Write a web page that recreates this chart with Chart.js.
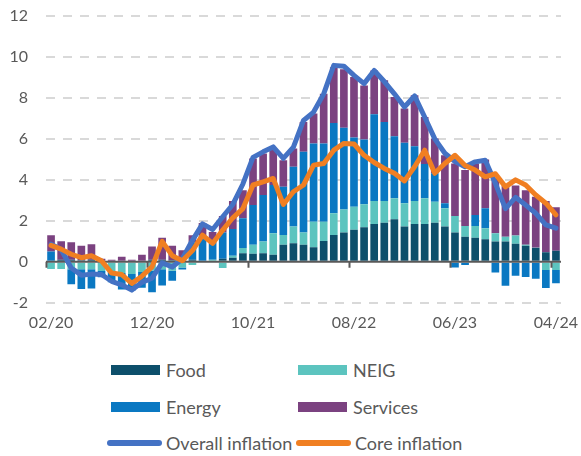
<!DOCTYPE html>
<html>
<head>
<meta charset="utf-8">
<script src="https://cdn.jsdelivr.net/npm/chart.js@4.4.1/dist/chart.umd.min.js"></script>
<style>
  body { margin: 0; background: #fff; font-family: Lato, sans-serif; }
  #wrap { position: relative; width: 581px; height: 456px; }
  #box { position: absolute; left: 0; top: 0; width: 581px; height: 354px; }
  .txt { position: absolute; font-size: 18px; color: #595959; line-height: 22px; white-space: nowrap; }
  .sw { position: absolute; }
</style>
</head>
<body>
<div id="wrap">
  <div id="box"><canvas id="canvas1"></canvas></div>
  <div id="legend"></div>
</div>
<script>
const months = ['02/20','03/20','04/20','05/20','06/20','07/20','08/20','09/20','10/20','11/20','12/20',
  '01/21','02/21','03/21','04/21','05/21','06/21','07/21','08/21','09/21','10/21','11/21','12/21',
  '01/22','02/22','03/22','04/22','05/22','06/22','07/22','08/22','09/22','10/22','11/22','12/22',
  '01/23','02/23','03/23','04/23','05/23','06/23','07/23','08/23','09/23','10/23','11/23','12/23',
  '01/24','02/24','03/24','04/24'];

// contributions, percentage points
const food = [0.05,0.1,0.1,0.08,0.1,0.05,0.05,0.05,0.05,0.05,0.1,
  0.1,0.08,0.07,0.1,0.05,0.05,0.15,0.2,0.42,0.39,0.42,0.34,
  0.83,0.91,0.83,0.71,1.02,1.31,1.43,1.56,1.69,1.85,1.91,2.08,
  1.72,1.85,1.85,1.91,1.72,1.43,1.23,1.18,1.1,0.99,0.99,0.88,
  0.78,0.67,0.47,0.54];
const neig = [-0.35,-0.35,-0.36,-0.36,-0.36,-0.45,-0.5,-0.55,-0.6,-0.5,-0.44,
  -0.36,-0.44,-0.28,-0.15,0.0,0.05,-0.3,0.1,0.25,0.44,0.57,1.06,
  0.48,0.81,0.6,1.25,0.94,1.06,1.13,1.13,1.12,1.12,1.06,1.02,
  1.14,1.12,1.25,1.02,0.89,0.81,0.52,0.57,0.54,0.41,0.24,0.4,
  0.05,0.02,-0.4,-0.4];
const energy = [0.45,0.0,-0.73,-0.97,-0.94,-0.3,-0.5,-0.8,-0.8,-0.77,-1.05,
  -0.8,-0.48,-0.1,0.85,1.25,0.85,1.28,1.3,1.46,1.94,2.27,2.35,
  2.35,2.92,3.94,3.82,3.82,4.41,3.99,3.38,3.16,4.23,3.86,3.03,
  2.95,2.67,1.67,1.39,0.25,-0.28,-0.15,0.54,0.97,-0.52,-1.17,-0.68,
  -0.74,-0.83,-0.88,-0.64];
const services = [0.8,0.9,0.85,0.7,0.76,0.1,0.05,0.2,0.05,0.3,0.65,
  1.08,0.7,0.5,0.35,0.6,0.5,0.81,1.37,1.37,2.27,2.03,1.78,
  1.3,0.89,1.46,1.46,2.43,2.72,2.85,2.95,2.64,2.14,2.03,1.91,
  1.67,2.49,2.3,1.7,2.34,2.56,2.73,2.51,2.39,2.65,2.5,2.45,
  2.67,2.49,2.5,2.12];

// annual rates, %
const overall = [0.86,0.6,-0.3,-0.65,-0.6,-0.62,-0.95,-1.12,-1.38,-1.0,-0.8,
  -0.05,-0.25,0.15,1.05,1.85,1.58,2.2,2.8,3.8,5.1,5.37,5.61,
  5.05,5.6,6.9,7.31,8.2,9.59,9.55,9.1,8.7,9.34,8.8,8.2,
  7.56,8.1,7.07,6.0,5.3,4.9,4.64,4.88,4.96,3.83,2.6,3.15,
  2.77,2.37,1.8,1.64];
const core = [0.8,0.62,0.37,0.2,0.3,0.05,-0.55,-0.62,-1.05,-0.7,-0.25,
  1.0,0.3,0.05,0.55,1.3,0.9,1.55,2.15,2.6,3.75,3.9,4.07,
  2.8,3.42,3.75,4.72,4.8,5.45,5.78,5.75,5.2,4.85,4.56,4.32,
  3.95,4.64,5.45,4.32,4.8,5.2,4.7,4.48,4.15,4.3,3.66,4.0,
  3.75,3.26,2.86,2.29];

const yTicks = [-2, 0, 2, 4, 6, 8, 10, 12];

const barNames = ['Food', 'NEIG', 'Energy', 'Services'];
const barColors = ['#0d4f6b', '#5cc4bf', '#0a78c2', '#7b4280'];
const lineNames = ['Overall inflation', 'Core inflation'];
const lineColors = ['#4472c4', '#f07f22'];

const ctx1 = document.getElementById('canvas1');

const barData = [food, neig, energy, services];
const barSets = barData.map((d, i) => {
    return {
        type: 'bar',
        label: barNames[i],
        data: d,
        backgroundColor: barColors[i],
        borderWidth: 0,
        categoryPercentage: 1.0,
        barPercentage: 0.76,
        stack: 'contrib'
    };
});

const lineSet = (label, d, color, stack) => ({
    type: 'line',
    label: label,
    data: d,
    borderColor: color,
    backgroundColor: color,
    borderWidth: 5,
    pointRadius: 0,
    tension: 0,
    borderJoinStyle: 'round',
    borderCapStyle: 'round',
    stack: stack
});

// lines first so they are drawn on top
const datasets = [
    lineSet(lineNames[1], core, lineColors[1], 'core'),
    lineSet(lineNames[0], overall, lineColors[0], 'overall')
].concat(barSets);

const zeroLine = {
    id: 'zeroLine',
    afterDatasetDraw(chart, args) {
        if (args.index !== 2) return;
        const c = chart.ctx;
        const xs = chart.scales.x;
        const y0 = chart.scales.y.getPixelForValue(0);
        const half = (xs.getPixelForValue(1) - xs.getPixelForValue(0)) / 2;
        c.save();
        c.strokeStyle = '#595959';
        c.lineWidth = 2;
        c.beginPath();
        c.moveTo(chart.chartArea.left, y0);
        c.lineTo(chart.chartArea.right, y0);
        for (let i = 0; i < months.length; i += 10) {
            const x = Math.round(xs.getPixelForValue(i) - half) + 0.5;
            c.moveTo(x, y0);
            c.lineTo(x, y0 + 6);
        }
        c.stroke();
        c.restore();
    }
};

const c1 = new Chart(ctx1, {
    data: { labels: months, datasets: datasets },
    plugins: [zeroLine],
    options: {
        responsive: true,
        maintainAspectRatio: false,
        animation: false,
        layout: { padding: { top: 16, left: 9, right: 20, bottom: 12 } },
        plugins: { legend: { display: false }, tooltip: { enabled: false } },
        scales: {
            x: {
                stacked: true,
                grid: { display: false, drawTicks: false },
                border: { display: false },
                afterFit: (s) => { s.paddingLeft = 0; s.paddingRight = 0; },
                ticks: {
                    autoSkip: false,
                    maxRotation: 0,
                    minRotation: 0,
                    padding: 10,
                    color: '#595959',
                    font: { family: 'Lato', size: 16 },
                    callback: (v, i) => (i % 10 === 0 ? months[i] : '')
                }
            },
            y: {
                stacked: true,
                min: yTicks[0],
                max: yTicks[yTicks.length - 1],
                afterBuildTicks: (s) => { s.ticks = yTicks.map(v => ({ value: v })); },
                afterFit: (s) => { s.width = 37; s.paddingTop = 0; s.paddingBottom = 0; },
                ticks: { padding: 18, color: '#595959', font: { family: 'Lato', size: 16 } },
                grid: {
                    color: (c) => (c.tick && c.tick.value === 0 ? 'rgba(0,0,0,0)' : '#d9d9d9'),
                    lineWidth: 2,
                    drawTicks: false
                },
                border: { display: false, dash: [9, 8] }
            }
        }
    }
});

// legend, two columns
const legend = document.getElementById('legend');
const items = [
    { name: barNames[0], color: barColors[0], bar: true, x: 111, y: 370 },
    { name: barNames[1], color: barColors[1], bar: true, x: 298, y: 370 },
    { name: barNames[2], color: barColors[2], bar: true, x: 111, y: 407 },
    { name: barNames[3], color: barColors[3], bar: true, x: 298, y: 407 },
    { name: lineNames[0], color: lineColors[0], bar: false, x: 107, y: 443 },
    { name: lineNames[1], color: lineColors[1], bar: false, x: 296, y: 443 }
];
items.forEach((it) => {
    const sw = document.createElement('div');
    sw.className = 'sw';
    sw.style.background = it.color;
    if (it.bar) {
        sw.style.left = it.x + 'px';
        sw.style.top = (it.y - 5) + 'px';
        sw.style.width = '49px';
        sw.style.height = '10px';
    } else {
        sw.style.left = it.x + 'px';
        sw.style.top = (it.y - 3) + 'px';
        sw.style.width = '55px';
        sw.style.height = '6px';
        sw.style.borderRadius = '3px';
    }
    legend.appendChild(sw);
    const t = document.createElement('div');
    t.className = 'txt';
    t.textContent = it.name;
    t.style.left = (it.x + (it.bar ? 55 : 59)) + 'px';
    t.style.top = (it.y - 11) + 'px';
    legend.appendChild(t);
});
</script>
</body>
</html>
